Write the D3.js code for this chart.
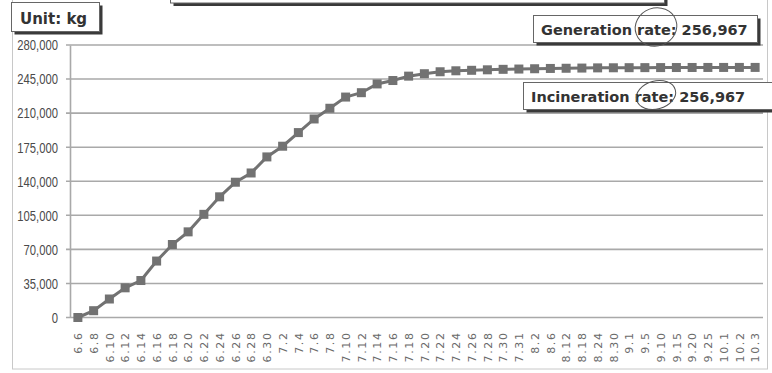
<!DOCTYPE html>
<html>
<head>
<meta charset="utf-8">
<script src="https://cdn.jsdelivr.net/npm/d3@7/dist/d3.min.js"></script>
<style>
  html, body { margin: 0; padding: 0; background: #fff; }
  svg { display: block; }
</style>
</head>
<body>
<svg id="chart" width="772" height="373"></svg>
<script>
// Cumulative waste (kg) by reporting date
const dates = ["6.6","6.8","6.10","6.12","6.14","6.16","6.18","6.20","6.22","6.24","6.26","6.28","6.30",
  "7.2","7.4","7.6","7.8","7.10","7.12","7.14","7.16","7.18","7.20","7.22","7.24","7.26","7.28","7.30","7.31",
  "8.2","8.6","8.12","8.18","8.24","8.30",
  "9.1","9.5","9.10","9.15","9.20","9.25",
  "10.1","10.2","10.3"];
const cumulative = [0,7000,19000,30500,38000,58000,75000,88000,106000,124000,139000,148500,165000,
  176000,190000,204000,215000,226500,231000,240000,243500,248000,250500,252500,253500,254000,254500,255000,255300,
  255600,255900,256100,256300,256500,256600,
  256700,256750,256800,256850,256900,256930,
  256950,256960,256967];
const yTicks = [0,35000,70000,105000,140000,175000,210000,245000,280000];
const unitLabel = "Unit: kg";
const generationLabel = "Generation rate: 256,967";
const incinerationLabel = "Incineration rate: 256,967";

const svg = d3.select("#chart");
const plotLeft = 70, plotRight = 763, plotTop = 45, plotBottom = 317.5;

const x = d3.scalePoint().domain(dates).range([plotLeft, plotRight]).padding(0.5);
const y = d3.scaleLinear().domain([0, 280000]).range([plotBottom, plotTop]);

// outer chart frame
svg.append("rect")
  .attr("x", 12.5).attr("y", -5).attr("width", 755).attr("height", 374)
  .attr("fill", "none").attr("stroke", "#c8c8c8").attr("stroke-width", 1);

// gridlines
svg.append("g").selectAll("line").data(yTicks).join("line")
  .attr("x1", plotLeft - 4).attr("x2", plotRight)
  .attr("y1", d => y(d)).attr("y2", d => y(d))
  .attr("stroke", "#a9a9a9").attr("stroke-width", 1.6);

// y axis (condensed numerals)
const yAxis = d3.axisLeft(y).tickValues(yTicks).tickSize(0).tickPadding(12)
  .tickFormat(d3.format(","));
const gy = svg.append("g").attr("transform", `translate(${plotLeft},0)`).call(yAxis);
gy.select(".domain").attr("stroke", "#a9a9a9").attr("stroke-width", 1.6);
gy.selectAll("text")
  .attr("fill", "#4a4a4a")
  .style("font-family", "'Liberation Sans', Arial, sans-serif")
  .style("font-size", "15px")
  .each(function () {
    const len = this.getComputedTextLength();
    d3.select(this).attr("textLength", len * 0.75).attr("lengthAdjust", "spacingAndGlyphs");
  });

// x axis labels (vertical)
const xAxis = d3.axisBottom(x).tickSize(0).tickPadding(0);
const gx = svg.append("g").attr("transform", `translate(0,${plotBottom})`).call(xAxis);
gx.select(".domain").remove();
gx.selectAll("text")
  .attr("fill", "#6a6a6a")
  .attr("text-anchor", "end")
  .attr("dy", "0.35em")
  .attr("transform", "translate(0,14) rotate(-90)")
  .attr("x", 0).attr("y", 0)
  .style("font-family", "'DejaVu Sans', sans-serif")
  .style("font-size", "11px")
  .style("letter-spacing", "1.6px");

// cumulative line with square markers
const line = d3.line().x((d, i) => x(dates[i])).y(d => y(d));
svg.append("path").datum(cumulative)
  .attr("d", line)
  .attr("fill", "none").attr("stroke", "#727272").attr("stroke-width", 3);
svg.append("g").selectAll("rect").data(cumulative).join("rect")
  .attr("x", (d, i) => x(dates[i]) - 4.5)
  .attr("y", d => y(d) - 4.5)
  .attr("width", 9).attr("height", 9)
  .attr("fill", "#727272");

// boxed labels with drop shadow
function callout(bx, by, bw, bh, label, tx, ty, size) {
  const g = svg.append("g");
  g.append("rect").attr("x", bx + 3).attr("y", by + 3).attr("width", bw).attr("height", bh)
    .attr("fill", "#3a3a3a");
  g.append("rect").attr("x", bx).attr("y", by).attr("width", bw).attr("height", bh)
    .attr("fill", "#fff").attr("stroke", "#666").attr("stroke-width", 1);
  if (label) {
    g.append("text").attr("x", tx).attr("y", ty).text(label)
      .attr("fill", "#333")
      .style("font-family", "'DejaVu Sans', sans-serif")
      .style("font-weight", "bold")
      .style("font-size", size + "px");
  }
}
callout(170.5, -30, 494, 33, null);
callout(11.5, 2.5, 88, 29, unitLabel, 20, 24, 15);
callout(533.5, 15.5, 224, 27, generationLabel, 541, 35, 14.5);
callout(523.5, 82.5, 260, 27, incinerationLabel, 531, 102, 14.5);

// pen loops around "rate:"
svg.append("ellipse")
  .attr("cx", 656).attr("cy", 27).attr("rx", 21).attr("ry", 19)
  .attr("transform", "rotate(-20,656,27)")
  .attr("fill", "none").attr("stroke", "#555").attr("stroke-width", 1);
svg.append("ellipse")
  .attr("cx", 656).attr("cy", 95).attr("rx", 20).attr("ry", 14)
  .attr("transform", "rotate(-15,656,95)")
  .attr("fill", "none").attr("stroke", "#555").attr("stroke-width", 1);
</script>
</body>
</html>
